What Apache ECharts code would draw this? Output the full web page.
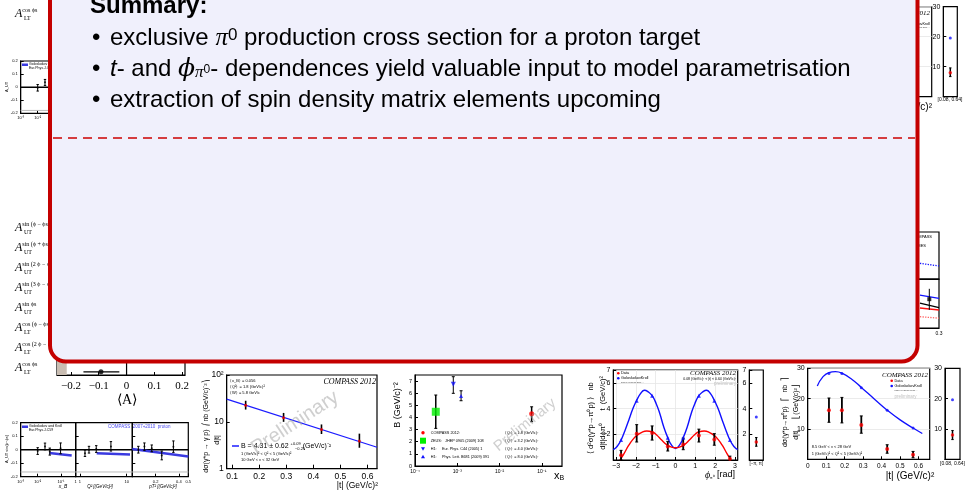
<!DOCTYPE html>
<html>
<head>
<meta charset="utf-8">
<script src="https://cdn.jsdelivr.net/npm/echarts@6/dist/echarts.min.js"></script>
<style>
  html, body { margin: 0; padding: 0; background: #fff; }
  #chart { width: 966px; height: 491px; }
</style>
</head>
<body>
<div id="chart"></div>
<script>
// ---------- data ----------
// summary box text
const summaryTitle = "Summary:";
const bullet1 = ["exclusive ", "π", "0", " production cross section for a proton target"];
const bullet2 = ["t", "- and ", "ϕ", "π", "0", "- dependences yield valuable input to model parametrisation"];
const bullet3 = "extraction of spin density matrix elements upcoming";

// asymmetry labels down the left edge
const asymLabels = [
  ["UT", "sin (ϕ − ϕs)"], ["UT", "sin (ϕ + ϕs)"], ["UT", "sin (2 ϕ − ϕs)"], ["UT", "sin (3 ϕ − ϕs)"],
  ["UT", "sin ϕs"], ["LT", "cos (ϕ − ϕs)"], ["LT", "cos (2 ϕ − ϕs)"], ["LT", "cos ϕs"]
];

// <A> summary panel (only bottom row visible)
const meanA = [[-0.092, 0, -0.155, -0.026]];
const meanABand = [-0.25, -0.215];
const meanATicks = ["−0.2", "−0.1", "0", "0.1", "0.2"];

// A_UT vs xB, Q2, pT2 (bottom-left) : [x, y, lo, hi]
const aXbPts = [[0.010, -0.010, -0.035, 0.015], [0.0206, 0.024, -0.001, 0.049], [0.033, -0.014, -0.04, 0.012], [0.096, 0.010, -0.03, 0.05]];
const aQ2Pts = [[1.28, -0.026, -0.05, -0.002], [1.56, 0.0, -0.025, 0.025], [2.23, 0.005, -0.02, 0.03], [4.6, 0.024, -0.01, 0.06]];
const aPtPts = [[0.085, 0.0, -0.025, 0.025], [0.137, 0.024, -0.005, 0.05], [0.2, 0.010, -0.015, 0.035], [0.286, -0.043, -0.075, -0.01], [0.386, 0.021, -0.02, 0.065]];
const aXbModel = [[0.0315, -0.024], [0.288, -0.043]];
const aQ2Model = [[2.28, -0.026], [11.8, -0.036]];
const aPtModel = [[0.033, 0.005], [0.514, -0.05]];
// same panel repeated at top-left
const topLeftPts = [[0.010, -0.005, -0.03, 0.02], [0.0206, 0.038, 0.013, 0.059]];
const topLeftModel = [[0.03, -0.018], [0.06, -0.022]];

// DVCS dσ/d|t| (log plot)
const dvcsT = [0.15, 0.29, 0.43, 0.57];
const dvcsXsec = [22.6, 12.3, 6.9, 3.9];
const dvcsLo = [18.3, 10.0, 5.5, 2.8];
const dvcsHi = [28.2, 15.5, 8.8, 5.6];
const dvcsFit = [[0.08, 30.4], [0.635, 2.87]];

// B slope vs xB : [xB, B, lo, hi]
const bCompass = [[0.0574, 4.31, 3.65, 4.88]];
const bZeus = [[0.00031, 4.47, 3.1, 5.85]];
const bH1a = [[0.000805, 6.73, 5.99, 7.36]];
const bH1b = [[0.00123, 5.77, 5.38, 6.2]];
const bLegend = [
  ["COMPASS 2012:", "⟨Q²⟩ = 1.8 (GeV/c)²"],
  ["ZEUS:   JHEP 0905 (2009) 108", "⟨Q²⟩ = 3.2 (GeV/c)²"],
  ["H1:     Eur. Phys. C44 (2005) 1", "⟨Q²⟩ = 4.0 (GeV/c)²"],
  ["H1:     Phys. Lett. B681 (2009) 391", "⟨Q²⟩ = 8.0 (GeV/c)²"]
];

// pi0 cross section vs phi
const phiBins = [-2.75, -1.96, -1.18, -0.39, 0.39, 1.18, 1.96, 2.75];
const phiData = [0.37, 2.05, 2.1, 1.05, 1.2, 1.9, 1.6, 0.1];
const phiDataLo = [0.0, 1.4, 1.55, 0.7, 0.8, 1.4, 1.15, 0.0];
const phiDataHi = [0.75, 2.75, 2.65, 1.45, 1.7, 2.4, 2.05, 0.3];
const phiModelPts = [1.55, 4.6, 5.0, 1.74, 1.74, 5.0, 4.6, 1.55];
const phiBlueCurve = [[-3.14, 0.8], [-2.95, 1.05], [-2.75, 1.55], [-2.55, 2.3], [-2.36, 3.1], [-2.15, 4.0], [-1.96, 4.65], [-1.75, 5.2], [-1.57, 5.43], [-1.38, 5.3], [-1.18, 5.0], [-0.98, 4.4], [-0.79, 3.6], [-0.6, 2.6], [-0.39, 1.74], [-0.2, 1.15], [0, 0.9], [0.2, 1.15], [0.39, 1.74], [0.6, 2.6], [0.79, 3.6], [0.98, 4.4], [1.18, 5.0], [1.38, 5.3], [1.57, 5.43], [1.75, 5.2], [1.96, 4.65], [2.15, 4.0], [2.36, 3.1], [2.55, 2.3], [2.75, 1.55], [2.95, 1.05], [3.14, 0.8]];
const phiRedCurve = [[-2.8, 0.0], [-2.6, 0.5], [-2.36, 1.15], [-2.15, 1.6], [-1.96, 1.9], [-1.7, 2.15], [-1.45, 2.25], [-1.2, 2.2], [-0.95, 1.95], [-0.7, 1.55], [-0.45, 1.2], [-0.2, 1.0], [0, 0.95], [0.2, 1.0], [0.45, 1.2], [0.7, 1.55], [0.95, 1.95], [1.2, 2.2], [1.45, 2.25], [1.7, 2.15], [1.96, 1.9], [2.15, 1.6], [2.36, 1.15], [2.6, 0.5], [2.8, 0.0]];
const phiIntegrated = { data: [1.4, 1.07, 1.75], model: 3.35 };

// pi0 cross section vs |t|
const tBins = [0.115, 0.185, 0.29, 0.43, 0.57];
const tData = [16.2, 16.2, 11.3, 3.4, 1.5];
const tDataLo = [12.2, 12.0, 8.6, 2.0, 0.5];
const tDataHi = [20.2, 20.4, 14.3, 4.8, 2.6];
const tModelPts = [28.3, 28.3, 23.6, 16.2, 10.3];
const tBlueCurve = [[0.052, 24.2], [0.08, 27.0], [0.115, 28.6], [0.15, 28.9], [0.185, 28.4], [0.24, 26.3], [0.29, 23.7], [0.36, 19.9], [0.43, 16.2], [0.5, 13.0], [0.57, 10.3], [0.62, 8.5]];
const tIntegrated = { data: [8.0, 6.5, 9.5], model: 19.6 };
const tIntegratedTop = { data: [8.0, 6.7, 9.6], model: 19.6 };

// fragments at the right edge (mostly hidden under the box)
const midRightTop = [[0.264, 0.334], [0.3, 0.277]];
const midRightBlue = [[0.264, 0.673], [0.3, 0.606]];
const midRightBlack = [[0.264, 0.51], [0.3, 0.414]];
const midRightRed = [[0.264, 0.408], [0.3, 0.367]];
const midRightRedDot = [[0.264, 0.231], [0.3, 0.2]];
const midRightPt = [[0.2817, 0.588, 0.37, 0.8]];

// ---------- helpers ----------
const SANS = "Liberation Sans";
const SERIF = "Liberation Serif";

function errBars(xi, yi, pts, color, lw, cap, horizontal) {
  return {
    type: "custom", xAxisIndex: xi, yAxisIndex: yi, data: pts, z: 4, silent: true,
    renderItem: function (params, api) {
      const x = api.value(0), y = api.value(1), lo = api.value(2), hi = api.value(3);
      const a = horizontal ? api.coord([lo, y]) : api.coord([x, lo]);
      const b = horizontal ? api.coord([hi, y]) : api.coord([x, hi]);
      const kids = [{ type: "line", shape: { x1: a[0], y1: a[1], x2: b[0], y2: b[1] }, style: { stroke: color, lineWidth: lw } }];
      if (cap) {
        [a, b].forEach(function (p) {
          kids.push(horizontal
            ? { type: "line", shape: { x1: p[0], y1: p[1] - cap, x2: p[0], y2: p[1] + cap }, style: { stroke: color, lineWidth: 1 } }
            : { type: "line", shape: { x1: p[0] - cap, y1: p[1], x2: p[0] + cap, y2: p[1] }, style: { stroke: color, lineWidth: 1 } });
        });
      }
      return { type: "group", children: kids };
    }
  };
}

function axis(gridIndex, extra, label, tick) {
  return Object.assign({
    gridIndex: gridIndex, type: "value",
    axisLine: { show: true, onZero: false, lineStyle: { color: "#000", width: 1 } },
    axisTick: Object.assign({ show: true, inside: true, length: 3, lineStyle: { color: "#000" } }, tick || {}),
    axisLabel: Object.assign({ show: true, color: "#000", fontSize: 6, margin: 3, fontFamily: SANS }, label || {}),
    splitLine: { show: false }
  }, extra);
}

function scatter(xi, yi, data, color, symbol, size, rot) {
  return { type: "scatter", xAxisIndex: xi, yAxisIndex: yi, data: data, symbol: symbol || "circle",
    symbolSize: size || 4, symbolRotate: rot || 0, itemStyle: { color: color }, z: 5, silent: true };
}

function line(xi, yi, data, color, width, dash, smooth) {
  return { type: "line", xAxisIndex: xi, yAxisIndex: yi, data: data, showSymbol: false, smooth: !!smooth,
    lineStyle: { color: color, width: width, type: dash || "solid" }, z: 3, silent: true };
}

function txt(x, y, text, size, opts) {
  return { type: "text", x: x, y: y, z: 10, silent: true, rotation: (opts && opts.rot) || 0,
    style: Object.assign({ text: text, fontSize: size, fontFamily: SANS, fill: "#000",
      align: "left", verticalAlign: "middle" }, opts || {}) };
}

const pairs = (xs, ys) => xs.map((x, i) => [x, ys[i]]);
const quads = (xs, ys, lo, hi) => xs.map((x, i) => [x, ys[i], lo[i], hi[i]]);
const faint = { show: true, lineStyle: { color: "#e6e6e6", width: 0.8 } };

// ---------- grids ----------
const grids = [
  { left: 20.7, top: 61, width: 55, height: 52.3 },      // 0 top-left copy of A_UT vs xB
  { left: 20.7, top: 422.7, width: 55, height: 54 },     // 1 A vs xB
  { left: 75.7, top: 422.7, width: 56.6, height: 54 },   // 2 A vs Q2
  { left: 132.3, top: 422.7, width: 56, height: 54 },    // 3 A vs pT2
  { left: 57, top: 200, width: 128, height: 175 },       // 4 <A> summary
  { left: 226.7, top: 375, width: 150.3, height: 93.7 }, // 5 DVCS log
  { left: 415, top: 375, width: 147, height: 91 },       // 6 B vs xB
  { left: 613.3, top: 370, width: 124.4, height: 90 },   // 7 phi
  { left: 749.3, top: 370, width: 14, height: 90 },      // 8 phi integrated
  { left: 807.7, top: 368.3, width: 122, height: 91 },   // 9 |t|
  { left: 945, top: 368.3, width: 15, height: 91 },      // 10 |t| integrated
  { left: 780, top: 6.7, width: 151.7, height: 90 },     // 11 top-right |t| (hidden)
  { left: 943.3, top: 6.7, width: 14, height: 90 },      // 12 top-right integrated
  { left: 780, top: 232, width: 159, height: 47 },       // 13 mid-right top
  { left: 780, top: 279, width: 159, height: 49 }        // 14 mid-right bottom
].map(g => Object.assign({ show: true, borderColor: "#000", borderWidth: 1.2, backgroundColor: "transparent", containLabel: false }, g));

const logLabel = (v) => {
  const e = Math.round(Math.log10(v));
  const sup = { "-4": "⁻⁴", "-3": "⁻³", "-2": "⁻²", "-1": "⁻¹", "0": "⁰", "1": "", "2": "²" }[e];
  return e === 0 ? "1" : "10" + sup;
};

const xAxes = [
  axis(0, { type: "log", min: 0.00187, max: 0.427 }, { fontSize: 4, formatter: logLabel }),
  axis(1, { type: "log", min: 0.00187, max: 0.427 }, { fontSize: 4, formatter: logLabel }),
  axis(2, { type: "log", min: 0.81, max: 13.2 }, { fontSize: 4, formatter: v => (v === 1 ? "1" : v === 10 ? "10" : "") }),
  axis(3, { min: 0.033, max: 0.514, interval: 0.2 }, { fontSize: 4, formatter: v => (v > 0.1 ? v.toFixed(1) : "") }),
  axis(4, { min: -0.25, max: 0.21 }, { fontSize: 11, fontFamily: SERIF, margin: 6, customValues: [-0.2, -0.1, 0, 0.1, 0.2], formatter: v => meanATicks[Math.round(v * 10) + 2] }, { customValues: [-0.2, -0.1, 0, 0.1, 0.2], length: 3 }),
  axis(5, { min: 0.08, max: 0.635 }, { fontSize: 8.5, customValues: [0.1, 0.2, 0.3, 0.4, 0.5, 0.6], formatter: v => v.toFixed(1) }, { customValues: [0.1, 0.2, 0.3, 0.4, 0.5, 0.6], length: 4 }),
  axis(6, { type: "log", min: 0.0001, max: 0.3 }, { fontSize: 5, formatter: logLabel, showMaxLabel: false }),
  Object.assign(axis(7, { min: -3.1416, max: 3.1416 }, { fontSize: 7, customValues: [-3, -2, -1, 0, 1, 2, 3], formatter: v => String(v).replace("-", "−") }, { customValues: [-3, -2, -1, 0, 1, 2, 3] }), { splitLine: faint }),
  axis(8, { min: 0, max: 1 }, { show: false }, { show: false }),
  axis(9, { min: 0, max: 0.66 }, { fontSize: 6.5, customValues: [0, 0.1, 0.2, 0.3, 0.4, 0.5, 0.6], formatter: v => (v === 0 ? "0" : v.toFixed(1)) }, { customValues: [0, 0.1, 0.2, 0.3, 0.4, 0.5, 0.6] }),
  axis(10, { min: 0, max: 1 }, { show: false }, { show: false }),
  axis(11, { min: 0, max: 0.69 }, { fontSize: 6.5, customValues: [0.6], formatter: v => v.toFixed(1) }, { customValues: [0.6] }),
  axis(12, { min: 0, max: 1 }, { show: false }, { show: false }),
  axis(13, { min: 0, max: 0.3 }, { show: false }, { show: false }),
  axis(14, { min: 0, max: 0.3 }, { fontSize: 5, customValues: [0.3], formatter: () => "0.3" }, { show: false })
];

const yAxes = [
  axis(0, { min: -0.2, max: 0.2, interval: 0.1 }, { fontSize: 4, formatter: v => (v === 0 ? "0" : v.toFixed(1)) }),
  axis(1, { min: -0.2, max: 0.2, interval: 0.1 }, { fontSize: 4, formatter: v => (v === 0 ? "0" : v.toFixed(1)) }),
  axis(2, { min: -0.2, max: 0.2, interval: 0.1 }, { show: false }),
  axis(3, { min: -0.2, max: 0.2, interval: 0.1 }, { show: false }),
  axis(4, { min: 0, max: 1 }, { show: false }, { show: false }),
  axis(5, { type: "log", min: 1, max: 100 }, { fontSize: 8.5, formatter: v => (v === 1 ? "1" : v === 10 ? "10" : "10²") }),
  axis(6, { min: 0, max: 7.5, interval: 1 }, { fontSize: 5.5, showMaxLabel: false }),
  Object.assign(axis(7, { min: 0, max: 7, interval: 2 }, { fontSize: 7, formatter: v => (v === 0 ? "" : v) }), { splitLine: faint }),
  axis(8, { min: 0, max: 7, interval: 2 }, { fontSize: 7, formatter: v => (v === 0 ? "" : v) }),
  Object.assign(axis(9, { min: 0, max: 30, interval: 10 }, { fontSize: 7, formatter: v => (v === 0 ? "" : v) }), { splitLine: faint }),
  axis(10, { min: 0, max: 30, interval: 10 }, { fontSize: 7, formatter: v => (v === 0 ? "" : v) }),
  Object.assign(axis(11, { min: 0, max: 30, interval: 10 }, { show: false }), { splitLine: faint }),
  axis(12, { min: 0, max: 30, interval: 10 }, { fontSize: 7, formatter: v => (v === 0 ? "" : v) }),
  axis(13, { min: 0, max: 1 }, { show: false }, { show: false }),
  axis(14, { min: 0, max: 1 }, { show: false }, { show: false })
];

// ---------- series ----------
const series = [
  // top-left copy
  line(0, 0, [[0.00187, 0], [0.427, 0]], "#000", 1.5),
  line(0, 0, [[0.00187, -0.178], [0.427, -0.178]], "#bbb", 1),
  line(0, 0, topLeftModel, "#3a3ae0", 2.5),
  errBars(0, 0, topLeftPts, "#000", 1, 1.2),
  scatter(0, 0, topLeftPts.map(p => [p[0], p[1]]), "#000", "circle", 2),
  // A vs xB, Q2, pT2
  line(1, 1, [[0.00187, 0], [0.427, 0]], "#000", 1.5),
  line(2, 2, [[0.81, 0], [13.2, 0]], "#000", 1.5),
  line(3, 3, [[0.033, 0], [0.514, 0]], "#000", 1.5),
  line(1, 1, [[0.00187, -0.165], [0.427, -0.165]], "#bbb", 1),
  line(2, 2, [[0.81, -0.165], [13.2, -0.165]], "#bbb", 1),
  line(3, 3, [[0.033, -0.165], [0.514, -0.165]], "#bbb", 1),
  line(1, 1, aXbModel, "#3a3ae0", 2.5),
  line(2, 2, aQ2Model, "#3a3ae0", 2.5),
  line(3, 3, aPtModel, "#3a3ae0", 2.5),
  errBars(1, 1, aXbPts, "#000", 1, 1.2), scatter(1, 1, aXbPts.map(p => [p[0], p[1]]), "#000", "circle", 2),
  errBars(2, 2, aQ2Pts, "#000", 1, 1.2), scatter(2, 2, aQ2Pts.map(p => [p[0], p[1]]), "#000", "circle", 2),
  errBars(3, 3, aPtPts, "#000", 1, 1.2), scatter(3, 3, aPtPts.map(p => [p[0], p[1]]), "#000", "circle", 2),
  // <A> panel
  { type: "custom", xAxisIndex: 4, yAxisIndex: 4, data: [meanABand], z: 2, silent: true,
    renderItem: (p, api) => {
      const a = api.coord([api.value(0), 1]), b = api.coord([api.value(1), 0]);
      return { type: "rect", shape: { x: a[0], y: a[1], width: b[0] - a[0], height: b[1] - a[1] }, style: { fill: "#c9bdb2" } };
    } },
  line(4, 4, [[0, 0], [0, 1]], "#000", 1.2),
  errBars(4, 4, meanA.map(p => [p[0], 0.018, p[2], p[3]]), "#000", 1.2, 0, true),
  scatter(4, 4, meanA.map(p => [p[0], 0.018]), "#000", "circle", 5),
  // DVCS log plot
  line(5, 5, dvcsFit, "#1c1cff", 1.3),
  errBars(5, 5, quads(dvcsT, dvcsXsec, dvcsLo, dvcsHi), "#000", 1.6, 0),
  scatter(5, 5, pairs(dvcsT, dvcsXsec), "#ff0000", "circle", 3),
  // B vs xB
  errBars(6, 6, bCompass, "#000", 1.5, 1.5), errBars(6, 6, bZeus, "#000", 1.5, 1.5),
  errBars(6, 6, bH1a, "#000", 1, 1.5), errBars(6, 6, bH1b, "#000", 1, 1.5),
  scatter(6, 6, bCompass.map(p => [p[0], p[1]]), "#ff0000", "circle", 5),
  scatter(6, 6, bZeus.map(p => [p[0], p[1]]), "#00ee00", "rect", 8),
  scatter(6, 6, bH1a.map(p => [p[0], p[1]]), "#1010ff", "triangle", 5, 180),
  scatter(6, 6, bH1b.map(p => [p[0], p[1]]), "#1010ff", "triangle", 4),
  // phi plot
  line(7, 7, phiBlueCurve, "#1010ff", 1.4, "solid", true),
  line(7, 7, phiRedCurve, "#ff0000", 1.4, "solid", true),
  errBars(7, 7, quads(phiBins, phiData, phiDataLo, phiDataHi), "#000", 1.8, 1.5),
  scatter(7, 7, pairs(phiBins, phiModelPts), "#1010ff", "triangle", 4),
  scatter(7, 7, pairs(phiBins, phiData), "#ff0000", "circle", 4),
  errBars(8, 8, [[0.5, phiIntegrated.data[0], phiIntegrated.data[1], phiIntegrated.data[2]]], "#000", 1.5, 1.2),
  scatter(8, 8, [[0.5, phiIntegrated.model]], "#1010ff", "circle", 3),
  scatter(8, 8, [[0.5, phiIntegrated.data[0]]], "#ff0000", "circle", 3.5),
  // |t| plot
  line(9, 9, tBlueCurve, "#1010ff", 1.3, "solid", true),
  errBars(9, 9, quads(tBins, tData, tDataLo, tDataHi), "#000", 1.8, 1.5),
  scatter(9, 9, pairs(tBins, tModelPts), "#1010ff", "circle", 3),
  scatter(9, 9, pairs(tBins, tData), "#ff0000", "circle", 4),
  errBars(10, 10, [[0.5, tIntegrated.data[0], tIntegrated.data[1], tIntegrated.data[2]]], "#000", 1.5, 1.2),
  scatter(10, 10, [[0.5, tIntegrated.model]], "#1010ff", "circle", 3),
  scatter(10, 10, [[0.5, tIntegrated.data[0]]], "#ff0000", "circle", 3.5),
  // top-right copy
  line(11, 11, tBlueCurve, "#1010ff", 1.3, "solid", true),
  errBars(12, 12, [[0.5, tIntegratedTop.data[0], tIntegratedTop.data[1], tIntegratedTop.data[2]]], "#000", 1.5, 1.2),
  scatter(12, 12, [[0.5, tIntegratedTop.model]], "#1010ff", "circle", 3),
  scatter(12, 12, [[0.5, tIntegratedTop.data[0]]], "#ff0000", "circle", 3.5),
  // mid-right fragments
  line(13, 13, midRightTop, "#1010ff", 1.3, "dotted"),
  line(14, 14, midRightBlue, "#1010ff", 1.3),
  line(14, 14, midRightBlack, "#000", 1.3),
  line(14, 14, midRightRed, "#ff1010", 1.3),
  line(14, 14, midRightRedDot, "#ff6060", 1.3, "dotted"),
  errBars(14, 14, midRightPt, "#000", 1, 0),
  scatter(14, 14, midRightPt.map(p => [p[0], p[1]]), "#000", "rect", 4)
];

// ---------- slide text around the plots ----------
const g = [];
// left labels A_UT / A_LT
const asymY = [228.3, 248.3, 268.3, 288.3, 308.3, 328.3, 348.3, 368.3];
asymLabels.forEach((l, i) => {
  g.push(txt(15, asymY[i], "{a|A}{s|" + l[1] + "}", 11, { fontFamily: SERIF, rich: {
    a: { fontSize: 12, fontFamily: SERIF, fontStyle: "italic", verticalAlign: "middle" },
    s: { fontSize: 6, fontFamily: SERIF, verticalAlign: "top", lineHeight: 14 } } }));
  g.push(txt(24, asymY[i] + 4, l[0], 6, { fontFamily: SERIF }));
});
g.push(txt(15, 14, "{a|A}{s|cos ϕs}", 11, { fontFamily: SERIF, rich: {
  a: { fontSize: 12, fontFamily: SERIF, fontStyle: "italic" }, s: { fontSize: 6, fontFamily: SERIF, verticalAlign: "top", lineHeight: 14 } } }));
g.push(txt(24, 18, "LT", 6, { fontFamily: SERIF }));
g.push(txt(127, 400, "⟨A⟩", 14, { fontFamily: SERIF, align: "center" }));

// bottom-left panel text
g.push(txt(7, 449, "A_UT sin(ϕ−ϕs)", 4, { rot: Math.PI / 2, align: "center" }));
g.push({ type: "rect", z: 10, shape: { x: 22, y: 425.5, width: 6, height: 2.5 }, style: { fill: "#3a3ae0" } });
g.push(txt(29, 426.5, "Goloskokov and Kroll", 3.5));
g.push(txt(29, 430.5, "Eur.Phys.J.C59", 3.5));
g.push(txt(108, 426.7, "COMPASS  2007+2010  proton", 4.5, { fill: "#4a4af0" }));
g.push(txt(63, 487, "x_B", 5, { align: "center", fontStyle: "italic" }));
g.push(txt(100, 487, "Q² [(GeV/c)²]", 4.5, { align: "center", fontStyle: "italic" }));
g.push(txt(163, 487, "pT² [(GeV/c)²]", 4.5, { align: "center", fontStyle: "italic" }));
// top-left copy decorations
g.push(txt(7, 87, "A_UT", 4, { rot: Math.PI / 2, align: "center" }));
g.push({ type: "rect", z: 10, shape: { x: 22, y: 63.5, width: 6, height: 2.5 }, style: { fill: "#3a3ae0" } });
g.push(txt(29, 64.5, "Goloskokov and Kroll", 3.5));
g.push(txt(29, 68.5, "Eur.Phys.J.C59", 3.5));

// DVCS log plot text
g.push(txt(230, 380.7, "⟨x_B⟩ = 0.056", 4));
g.push(txt(230, 386.7, "⟨Q²⟩ = 1.8 (GeV/c)²", 4));
g.push(txt(230, 392.7, "⟨W⟩ = 5.8 GeV/c", 4));
g.push(txt(376, 381.7, "COMPASS 2012", 8, { align: "right", fontFamily: SERIF, fontStyle: "italic" }));
g.push({ type: "line", z: 10, shape: { x1: 232, y1: 446, x2: 239, y2: 446 }, style: { stroke: "#1c1cff", lineWidth: 1.5 } });
g.push(txt(241, 446, "{b|B = 4.31 ± 0.62 }{s|+0.09}{b| (GeV/c)⁻²}", 7, { rich: {
  b: { fontSize: 7, fontFamily: SANS }, s: { fontSize: 4, fontFamily: SANS, verticalAlign: "top", lineHeight: 8 } } }));
g.push(txt(295, 448.5, "−0.25", 4));
g.push(txt(241, 454.3, "1 (GeV/c)² < Q² < 5 (GeV/c)²", 4));
g.push(txt(241, 460, "10 GeV < ν < 32 GeV", 4));
g.push(txt(295, 423, "Preliminary", 20, { align: "center", fill: "rgba(160,160,160,0.5)", rot: 0.58 }));
g.push(txt(378, 486, "|t| (GeV/c)²", 8.5, { align: "right" }));
g.push(txt(206, 426, "dσ(γ*p → γ p)  ⎛nb (GeV/c)⁻²⎞", 7, { rot: Math.PI / 2, align: "center" }));
g.push(txt(217, 440, "d|t|", 7, { rot: Math.PI / 2, align: "center" }));

// B plot text
const bLegY = [432.7, 440.7, 448.7, 456.7];
g.push({ type: "circle", z: 10, shape: { cx: 423, cy: bLegY[0], r: 1.7 }, style: { fill: "#ff0000" } });
g.push({ type: "rect", z: 10, shape: { x: 420, y: bLegY[1] - 3, width: 6, height: 6 }, style: { fill: "#00ee00" } });
g.push({ type: "polygon", z: 10, shape: { points: [[421, bLegY[2] - 1.5], [425, bLegY[2] - 1.5], [423, bLegY[2] + 2]] }, style: { fill: "#1010ff" } });
g.push({ type: "polygon", z: 10, shape: { points: [[421, bLegY[3] + 1.5], [425, bLegY[3] + 1.5], [423, bLegY[3] - 2]] }, style: { fill: "#1010ff" } });
bLegend.forEach((r, i) => {
  g.push(txt(430.7, bLegY[i], r[0], 3.8));
  g.push(txt(505, bLegY[i], r[1], 3.8));
});
g.push(txt(525, 425, "Preliminary", 15, { align: "center", fill: "rgba(160,160,160,0.5)", rot: 0.68 }));
g.push(txt(554, 476, "{x|x}{b|B}", 10, { rich: { x: { fontSize: 11, fontFamily: SANS }, b: { fontSize: 7, fontFamily: SANS, verticalAlign: "bottom", lineHeight: 10 } } }));
g.push(txt(398, 405, "B (GeV/c)⁻²", 9, { rot: Math.PI / 2, align: "center" }));

// phi plot text
g.push({ type: "circle", z: 10, shape: { cx: 618.3, cy: 373.3, r: 1.3 }, style: { fill: "#ff0000" } });
g.push({ type: "circle", z: 10, shape: { cx: 618.3, cy: 378.3, r: 1.3 }, style: { fill: "#1010ff" } });
g.push(txt(621, 373.3, "Data", 3.8));
g.push(txt(621, 378.3, "GoloskokovKroll", 3.8));
g.push(txt(621, 382, "based on EPJC 2011 ...", 2.2, { fill: "#444" }));
g.push(txt(736, 373.3, "COMPASS 2012", 7, { align: "right", fontFamily: SERIF, fontStyle: "italic" }));
g.push(txt(736, 378.6, "0.08 (GeV/c)² < |t| < 0.64 (GeV/c)²", 3.5, { align: "right" }));
g.push(txt(736, 384, "preliminary", 4.5, { align: "right", fill: "#c0c0c0" }));
g.push(txt(720, 475, "{p|ϕ}{s|π⁰} {r|[rad]}", 9, { align: "center", rich: {
  p: { fontSize: 10, fontFamily: SERIF, fontStyle: "italic" }, s: { fontSize: 5, fontFamily: SERIF, verticalAlign: "bottom", lineHeight: 11 },
  r: { fontSize: 9, fontFamily: SANS } } }));
g.push(txt(591, 415, "⟨ d²σ(γ*p→π⁰p) ⟩   nb   ", 7.5, { rot: Math.PI / 2, align: "center" }));
g.push(txt(603, 415, "  d|t|dϕπ⁰      t  (GeV/c)²", 7.5, { rot: Math.PI / 2, align: "center" }));
g.push(txt(756.3, 464, "[−π, π]", 4.5, { align: "center" }));

// |t| plot text
g.push({ type: "circle", z: 10, shape: { cx: 891.7, cy: 380.7, r: 1.3 }, style: { fill: "#ff0000" } });
g.push({ type: "circle", z: 10, shape: { cx: 891.7, cy: 386, r: 1.3 }, style: { fill: "#1010ff" } });
g.push(txt(894.5, 380.7, "Data", 3.8));
g.push(txt(894.5, 386, "GoloskokovKroll", 3.8));
g.push(txt(894.5, 390, "based on EPJC 2011 ...", 2.2, { fill: "#444" }));
g.push(txt(928, 375, "COMPASS 2012", 7, { align: "right", fontFamily: SERIF, fontStyle: "italic" }));
g.push(txt(894.5, 396.7, "preliminary", 4.5, { fill: "#c0c0c0" }));
g.push(txt(811.7, 447.3, "8.5 GeV < ν < 28 GeV", 4));
g.push(txt(811.7, 454.3, "1 (GeV/c)² < Q² < 5 (GeV/c)²", 4));
g.push(txt(910, 476, "|t| (GeV/c)²", 10, { align: "center" }));
g.push(txt(785, 412, "dσ(γ*p→π⁰p)   ⎡  nb  ⎤", 7, { rot: Math.PI / 2, align: "center" }));
g.push(txt(796, 412, "d|t|      ⎣(GeV/c)²⎦", 7, { rot: Math.PI / 2, align: "center" }));
g.push(txt(952.5, 464, "[0.08, 0.64]", 5, { align: "center" }));
// top-right copy text
g.push(txt(950, 100, "[0.08, 0.64]", 5, { align: "center" }));
g.push(txt(932, 107, "|t| (GeV/c)²", 10, { align: "right" }));
g.push(txt(930, 13, "COMPASS 2012", 7, { align: "right", fontFamily: SERIF, fontStyle: "italic" }));
g.push(txt(930, 23.5, "GoloskokovKroll", 3.8, { align: "right" }));
g.push(txt(930, 27.5, "based on EPJC 2011 ...", 2.2, { align: "right", fill: "#444" }));

// mid-right fragment text
g.push(txt(932, 236.7, "COMPASS", 4, { align: "right" }));
g.push(txt(926, 246, "HERMES", 4, { align: "right" }));

// ---------- summary box on top ----------
const BOX_RED = "#c40000";
g.push({ type: "rect", z: 50, silent: true, shape: { x: 50, y: -40, width: 867.5, height: 401.5, r: 16 },
  style: { fill: "#f0f0fc", stroke: BOX_RED, lineWidth: 4 } });
g.push({ type: "line", z: 51, silent: true, shape: { x1: 53, y1: 138, x2: 915, y2: 138 },
  style: { stroke: "#cc0000", lineWidth: 1.4, lineDash: [9, 6] } });
const big = { fontSize: 24, fontFamily: SANS, fill: "#000" };
g.push({ type: "text", z: 52, x: 90, y: 6, style: Object.assign({ text: summaryTitle, fontWeight: "bold", verticalAlign: "middle" }, big) });
[38.5, 69.5, 100].forEach(y => g.push({ type: "text", z: 52, x: 92, y: y, style: Object.assign({ text: "•", verticalAlign: "middle" }, big) }));
g.push({ type: "text", z: 52, x: 110, y: 38.5, style: {
  text: "{t|" + bullet1[0] + "}{m|" + bullet1[1] + "}{sup|" + bullet1[2] + "}{t|" + bullet1[3] + "}",
  verticalAlign: "middle", rich: {
    t: { fontSize: 24, fontFamily: SANS, fill: "#000", lineHeight: 24 },
    m: { fontSize: 25, fontFamily: SERIF, fontStyle: "italic", fill: "#000", lineHeight: 24 },
    sup: { fontSize: 17, fontFamily: SANS, fill: "#000", verticalAlign: "top", lineHeight: 17 } } } });
g.push({ type: "text", z: 52, x: 110, y: 69.5, style: {
  text: "{it|" + bullet2[0] + "}{t|" + bullet2[1] + "}{m|" + bullet2[2] + "}{sub|" + bullet2[3] + "}{ss|" + bullet2[4] + "}{t|" + bullet2[5] + "}",
  verticalAlign: "middle", rich: {
    t: { fontSize: 24, fontFamily: SANS, fill: "#000", lineHeight: 24 },
    it: { fontSize: 24, fontFamily: SANS, fontStyle: "italic", fill: "#000", lineHeight: 24 },
    m: { fontSize: 25, fontFamily: "DejaVu Serif", fontStyle: "italic", fill: "#000", lineHeight: 24 },
    sub: { fontSize: 17, fontFamily: SERIF, fontStyle: "italic", fill: "#000", verticalAlign: "bottom", lineHeight: 16 },
    ss: { fontSize: 12, fontFamily: SANS, fill: "#000", verticalAlign: "middle", lineHeight: 12 } } } });
g.push({ type: "text", z: 52, x: 110, y: 100, style: Object.assign({ text: bullet3, verticalAlign: "middle" }, big) });

const chart = echarts.init(document.getElementById("chart"));
chart.setOption({
  animation: false,
  backgroundColor: "#ffffff",
  grid: grids,
  xAxis: xAxes,
  yAxis: yAxes,
  series: series,
  graphic: { elements: g }
});
</script>
</body>
</html>
